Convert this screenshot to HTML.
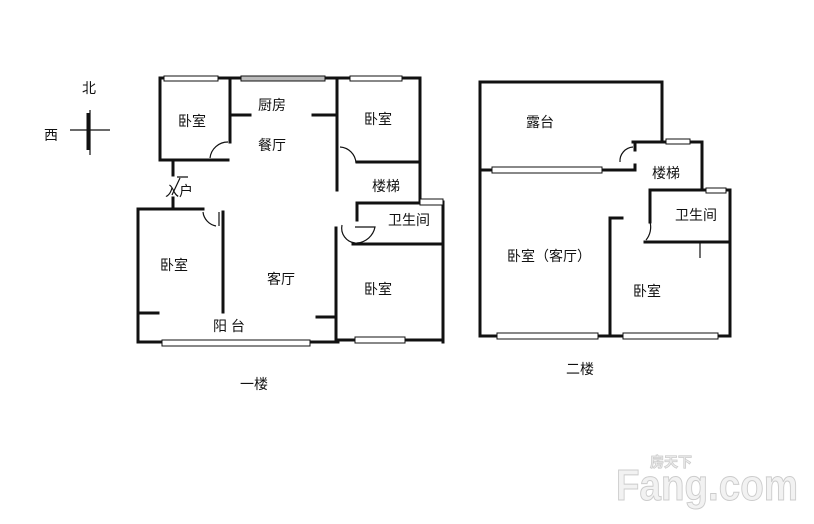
<!DOCTYPE html>
<html><head><meta charset="utf-8"><style>
body{margin:0;background:#fff;width:814px;height:519px;overflow:hidden}
text{font-family:"Liberation Sans","Noto Sans CJK SC",sans-serif;font-size:14px;fill:#111}
</style></head><body>
<svg width="814" height="519" viewBox="0 0 814 519">
<g stroke="#111" stroke-width="3" fill="none" stroke-linecap="square">
<path d="M160 78H420"/>
<path d="M160 78V160H228"/>
<path d="M230 78V142"/>
<path d="M230 115H250"/>
<path d="M313 115H337"/>
<path d="M337 78V190"/>
<path d="M420 78V200"/>
<path d="M357 162H420"/>
<path d="M173 162V175M173 198V209"/>
<path d="M138 209H203"/>
<path d="M138 209V342H338"/>
<path d="M223 212V312"/>
<path d="M138 313H158"/>
<path d="M357 203H443"/>
<path d="M357 203V220"/>
<path d="M353 244H443"/>
<path d="M443 202V342"/>
<path d="M336 228V342"/>
<path d="M317 317H336"/>
<path d="M336 340H443"/>
<path d="M480 82V336H728"/>
<path d="M480 82H662V142"/>
<path d="M633 142H702V190"/>
<path d="M635 142V150M635 165V170"/>
<path d="M480 170H635"/>
<path d="M650 190H730V336"/>
<path d="M650 190V222"/>
<path d="M645 242H730"/>
<path d="M610 218V336"/>
<path d="M610 218H622"/>
</g>
<g stroke="#111" stroke-width="1" fill="#fff">
<rect x="164" y="76" width="54" height="5"/>
<rect x="241" y="76" width="84" height="5" fill="#bbb"/>
<rect x="350" y="76" width="52" height="5"/>
<rect x="162" y="340" width="148" height="6"/>
<rect x="355" y="337" width="50" height="6"/>
<rect x="420" y="199" width="23" height="6"/>
<rect x="492" y="167" width="110" height="6"/>
<rect x="666" y="139" width="24" height="5"/>
<rect x="706" y="188" width="20" height="5"/>
<rect x="497" y="333" width="101" height="6"/>
<rect x="623" y="333" width="95" height="6"/>
</g>
<g stroke="#111" stroke-width="1.2" fill="none">
<path d="M228 142A18 18 0 0 0 210 158"/>
<path d="M340 147A17 17 0 0 1 356 163"/>
<path d="M203 212A16 16 0 0 0 216 226M219 212V226"/>
<path d="M342 225A15 15 0 0 0 355 243M355 227H375A20 20 0 0 1 357 243"/>
<path d="M633 147A14 14 0 0 0 620 162"/>
<path d="M650 222A20 20 0 0 1 646 240"/>
<path d="M700 242V258"/>
<path d="M90 110V155M70 130H110"/>
<path d="M88 113V150" stroke-width="3"/>
<path d="M180 178L172 195M177 177H188"/>
</g>
<text x="178" y="126">卧室</text>
<text x="258" y="110">厨房</text>
<text x="258" y="150">餐厅</text>
<text x="364" y="124">卧室</text>
<text x="372" y="191">楼梯</text>
<text x="388" y="225">卫生间</text>
<text x="165" y="196">入户</text>
<text x="160" y="270">卧室</text>
<text x="267" y="284">客厅</text>
<text x="364" y="294">卧室</text>
<text x="213" y="331">阳 台</text>
<text x="240" y="389">一楼</text>
<text x="82" y="93">北</text>
<text x="44" y="140">西</text>
<text x="526" y="127">露台</text>
<text x="652" y="178">楼梯</text>
<text x="675" y="220">卫生间</text>
<text x="507" y="261">卧室（客厅）</text>
<text x="633" y="296">卧室</text>
<text x="566" y="374">二楼</text>
<text x="650" y="467" style="font-size:14px;font-weight:bold;fill:#eee;stroke:#ccc;stroke-width:0.8">房天下</text>
<text x="616" y="500" textLength="182" lengthAdjust="spacingAndGlyphs" style="font-size:44px;font-weight:bold;fill:#f2f2f2;stroke:#ccc;stroke-width:1">Fang.com</text>
</svg>
</body></html>
